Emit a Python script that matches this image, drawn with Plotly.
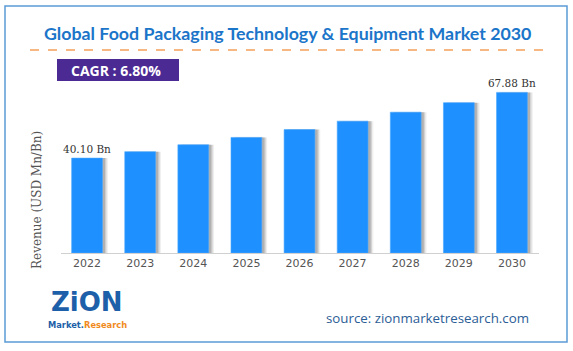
import plotly.graph_objects as go

years = ["2022", "2023", "2024", "2025", "2026", "2027", "2028", "2029", "2030"]
revenue = [40.10, 42.83, 45.74, 48.85, 52.17, 55.72, 59.51, 63.55, 67.88]
labels = ["40.10 Bn", "", "", "", "", "", "", "", "67.88 Bn"]

title_text = "Global Food Packaging Technology & Equipment Market 2030"
cagr_text = "CAGR : 6.80%"
source_text = "source: zionmarketresearch.com"
y_title = "Revenue (USD Mn/Bn)"

W, H = 573, 351
def px(x): return x / W
def py(y): return 1 - y / H

fig = go.Figure()

# soft shadows to the right of bars
for dx, op in [(0.10, 0.10), (0.075, 0.18), (0.05, 0.28)]:
    fig.add_trace(go.Bar(
        x=years, y=revenue, width=0.58, offset=-0.29 + dx,
        marker=dict(color=f"rgba(90,90,90,{op})", line=dict(width=0)),
        hoverinfo="skip", showlegend=False))

fig.add_trace(go.Bar(
    x=years, y=revenue, width=0.58, offset=-0.29,
    marker=dict(color="#1E90FF", line=dict(color="#4AA8FF", width=0.6)),
    text=labels, textposition="outside", cliponaxis=False, constraintext="none",
    textfont=dict(family="DejaVu Serif", size=10.5, color="#333333"),
    showlegend=False))

fig.update_layout(
    width=W, height=H,
    margin=dict(l=0, r=0, t=0, b=0),
    paper_bgcolor="white", plot_bgcolor="white",
    barmode="overlay",
    xaxis=dict(domain=[px(60.5), px(538.5)], range=[-0.5, 8.5], type="category",
               showline=True, linecolor="#d0d0d0", linewidth=1,
               ticks="", showgrid=False,
               tickfont=dict(family="DejaVu Sans", size=11, color="#555555")),
    yaxis=dict(domain=[py(253), py(85)], range=[0, 71], showticklabels=False,
               showgrid=False, zeroline=False, showline=False),
)

shapes = [
    dict(type="rect", xref="paper", yref="paper", x0=px(5), x1=px(567), y0=py(342), y1=py(6),
         line=dict(color="#5B9BD5", width=1.5), fillcolor="rgba(0,0,0,0)", layer="below"),
    dict(type="line", xref="paper", yref="paper", x0=px(30), x1=px(543), y0=py(50), y1=py(50),
         line=dict(color="#F5A05A", width=1.3, dash="dash")),
    dict(type="rect", xref="paper", yref="paper", x0=px(57), x1=px(179), y0=py(81), y1=py(59),
         line=dict(width=0), fillcolor="#4B2A94"),
]
fig.update_layout(shapes=shapes)

ann = [
    dict(text=f"<b>{title_text}</b>", x=px(287), y=py(33), xref="paper", yref="paper",
         showarrow=False, font=dict(family="Lato", size=17.8, color="#1B75C9"),
         xanchor="center", yanchor="middle"),
    dict(text=y_title, x=px(37), y=py(200), xref="paper", yref="paper", textangle=-90,
         showarrow=False, font=dict(family="DejaVu Serif", size=12, color="#555555"),
         xanchor="center", yanchor="middle"),
    dict(text=f"<b>{cagr_text}</b>", x=px(69), y=py(70), xref="paper", yref="paper",
         showarrow=False, font=dict(family="Open Sans", size=14, color="white"),
         xanchor="left", yanchor="middle"),
    dict(text=source_text, x=px(531), y=py(318), xref="paper", yref="paper",
         showarrow=False, font=dict(family="Open Sans", size=13.3, color="#2B5D96"),
         xanchor="right", yanchor="middle"),
    dict(text="<b>ZiON</b>", x=px(87), y=py(318), xref="paper", yref="paper",
         showarrow=False, font=dict(family="DejaVu Sans", size=26, color="#1D5FA8"),
         xanchor="center", yanchor="bottom", borderpad=0),
    dict(text="<b>Market.<span style='color:#F08A1C'>Research</span></b>", x=px(87), y=py(319),
         xref="paper", yref="paper", showarrow=False,
         font=dict(family="DejaVu Sans", size=8.3, color="#1D5FA8"),
         xanchor="center", yanchor="top", borderpad=0),
]
fig.update_layout(annotations=ann)

fig.write_html("out.html")
